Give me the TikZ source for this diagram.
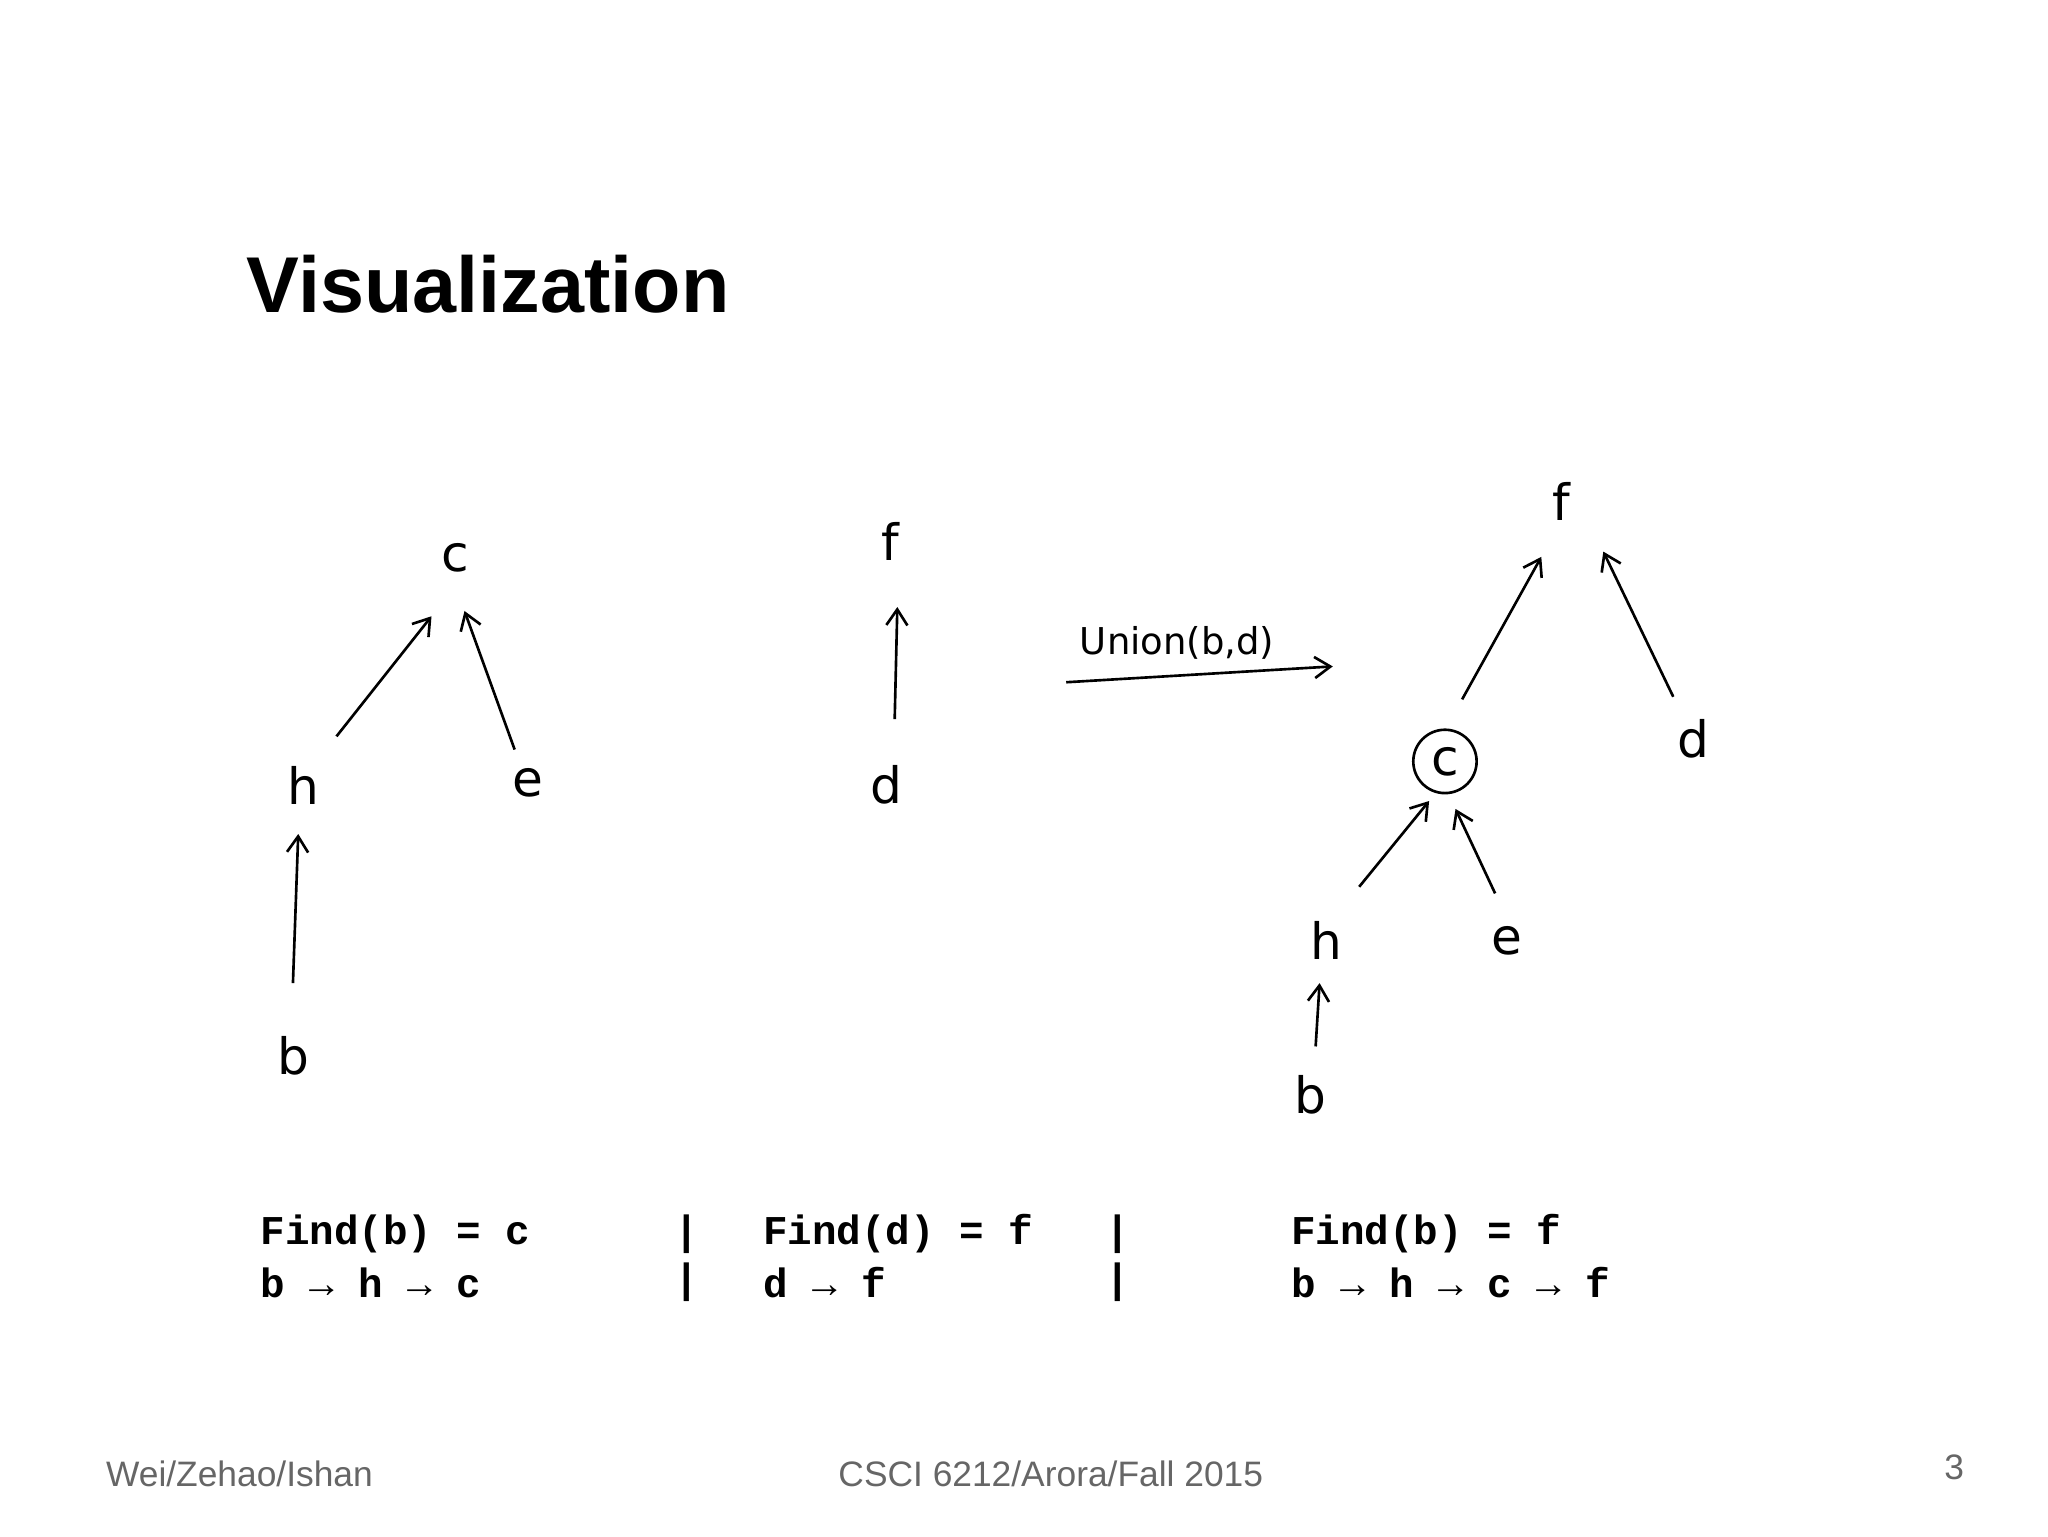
\documentclass[tikz,border=0pt]{standalone}
\usetikzlibrary{arrows.meta}
\usepackage{fontspec}
\setmainfont{Liberation Sans}
\newfontfamily\monof{Liberation Mono}
\newfontfamily\handf{DejaVu Sans}
\begin{document}
\begin{tikzpicture}[x=0.5pt,y=-0.5pt,
  hand/.style={font=\handf\fontsize{19}{21}\selectfont, inner sep=1pt},
  edge/.style={-{Straight Barb[length=6pt,width=8pt]}, line width=1pt},
  code/.style={font=\monof\bfseries\fontsize{15.5}{17}\selectfont, anchor=west, inner sep=0pt},
  foot/.style={font=\fontsize{13.4}{15}\selectfont, anchor=west, text=black!60, inner sep=0pt}]
\useasboundingbox (0,0) rectangle (1552,1164);
\node[anchor=west, font=\bfseries\fontsize{30}{34}\selectfont] (title) at (180,215) {Visualization};
% tree 1
\node[hand] (c1) at (345,423) {c};
\node[hand] (h1) at (230,595) {h};
\node[hand] (e1) at (400,593) {e};
\node[hand] (b1) at (222,800) {b};
\coordinate (a1s) at (255,558); \coordinate (a1e) at (327,467);
\coordinate (a2s) at (390,568); \coordinate (a2e) at (352,463);
\coordinate (a3s) at (222,745); \coordinate (a3e) at (226,632);
\draw[edge] (a1s) -- (a1e);
\draw[edge] (a2s) -- (a2e);
\draw[edge] (a3s) -- (a3e);
% tree 2
\node[hand] (f2) at (675,410) {f};
\node[hand] (d2) at (672,595) {d};
\coordinate (a4s) at (678,545); \coordinate (a4e) at (680,460);
\draw[edge] (a4s) -- (a4e);
% union
\node[hand, font=\handf\fontsize{14}{16}\selectfont] (un) at (892,487) {Union(b,d)};
\coordinate (u1) at (808,517); \coordinate (u2) at (1010,505);
\draw[edge] (u1) -- (u2);
% tree 3
\node[hand] (f3) at (1183,380) {f};
\node[hand, draw, circle, line width=1pt, inner sep=0pt, minimum size=24pt] (c3) at (1095,577) {c};
\node[hand] (d3) at (1283,560) {d};
\node[hand] (h3) at (1005,713) {h};
\node[hand] (e3) at (1142,713) {e};
\node[hand] (b3) at (993,830) {b};
\coordinate (a5s) at (1108,530); \coordinate (a5e) at (1168,422);
\coordinate (a6s) at (1268,528); \coordinate (a6e) at (1215,418);
\coordinate (a7s) at (1030,672); \coordinate (a7e) at (1083,607);
\coordinate (a8s) at (1133,677); \coordinate (a8e) at (1103,613);
\coordinate (a9s) at (997,793); \coordinate (a9e) at (1000,745);
\draw[edge] (a5s) -- (a5e);
\draw[edge] (a6s) -- (a6e);
\draw[edge] (a7s) -- (a7e);
\draw[edge] (a8s) -- (a8e);
\draw[edge] (a9s) -- (a9e);
% code
\node[code] (t1) at (197,935) {Find(b) = c};
\node[code] (t2) at (197,972) {b → h → c};
\node[code] (p1) at (511,935) {|};
\node[code] (p2) at (511,972) {|};
\node[code] (t3) at (578,935) {Find(d) = f};
\node[code] (t4) at (578,972) {d → f};
\node[code] (p3) at (837,935) {|};
\node[code] (p4) at (837,972) {|};
\node[code] (t5) at (978,935) {Find(b) = f};
\node[code] (t6) at (978,972) {b → h → c → f};
% footer
\node[foot] (w) at (80,1117) {Wei/Zehao/Ishan};
\node[foot] (cs) at (635,1117) {CSCI 6212/Arora/Fall 2015};
\node[foot] (n) at (1473,1112) {3};
\end{tikzpicture}
\end{document}
